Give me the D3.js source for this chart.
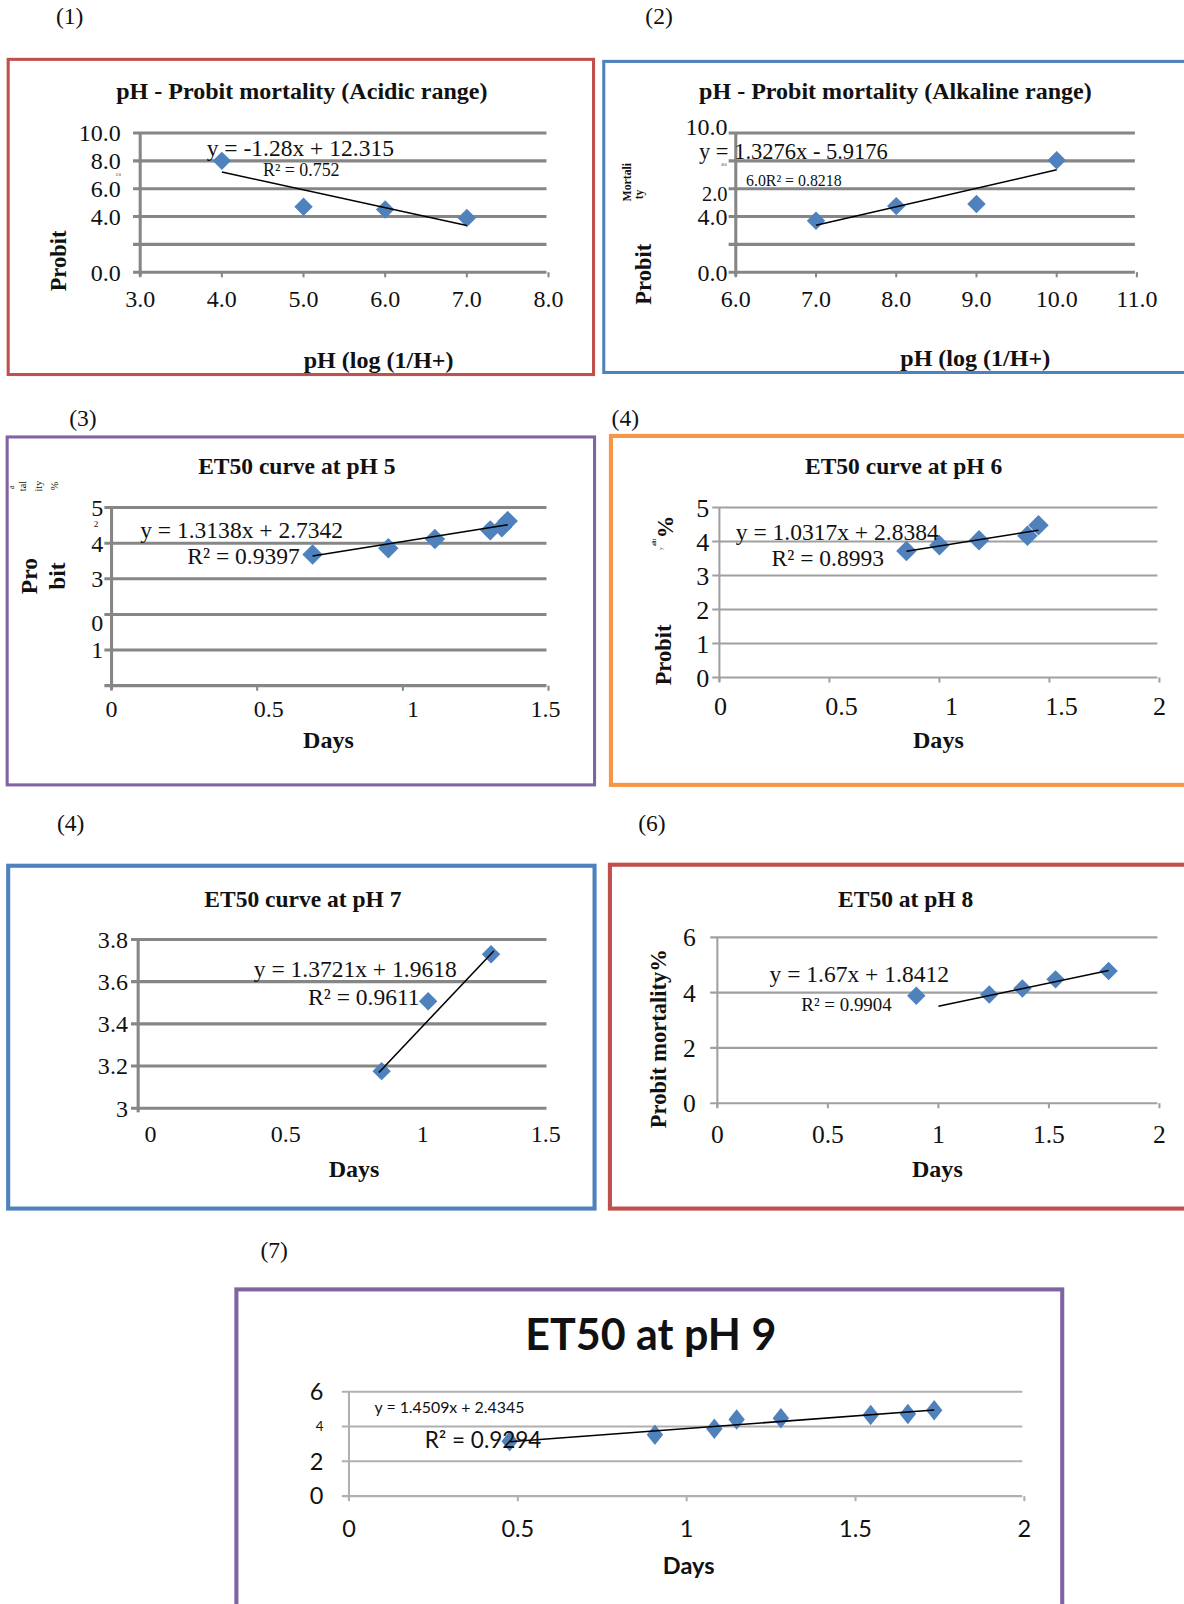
<!DOCTYPE html>
<html>
<head>
<meta charset="utf-8">
<script src="https://cdn.jsdelivr.net/npm/d3@7"></script>
<style>
	body { margin: 0; background: #fff; }
	svg { display: block; }
</style>
</head>
<body>
<div id="chart"></div>
<script>
// ---- data ----

// (1) acidic range
var acidPH = [4, 5, 6, 7];
var acidProbit = [8.0, 4.7, 4.5, 3.9];
var acidFit = [-1.28, 12.315];

// (2) alkaline range
var alkPH = [7, 8, 9, 10];
var alkProbit = [3.7, 4.75, 4.9, 8.05];
var alkFit = [1.3276, -5.9176];

// (3) ET50 at pH 5
var ph5Days = [0.69, 0.95, 1.11, 1.30, 1.34, 1.36];
var ph5Probit = [3.68, 3.86, 4.12, 4.36, 4.45, 4.62];
var ph5Fit = [1.3138, 2.7342];

// (4) ET50 at pH 6
var ph6Days = [0.85, 1.0, 1.18, 1.40, 1.45];
var ph6Probit = [3.72, 3.89, 4.04, 4.17, 4.48];
var ph6Fit = [1.0317, 2.8384];

// (4) ET50 at pH 7
var ph7Days = [0.89, 1.06, 1.29];
var ph7Probit = [3.176, 3.507, 3.73];
var ph7Fit = [1.3721, 1.9618];

// (6) ET50 at pH 8
var ph8Days = [0.90, 1.23, 1.38, 1.53, 1.77];
var ph8Probit = [3.89, 3.93, 4.15, 4.48, 4.78];
var ph8Fit = [1.67, 1.8412];

// (7) ET50 at pH 9
var ph9Days = [0.476, 0.906, 1.082, 1.148, 1.279, 1.545, 1.655, 1.733];
var ph9Probit = [3.16, 3.53, 3.87, 4.40, 4.47, 4.66, 4.72, 4.93];
var ph9Fit = [1.4509, 2.4345];

// tick labels (as printed, including the scan's odd ones)
var pHTicksA = [3, 4, 5, 6, 7, 8];
var pHTicksB = [6, 7, 8, 9, 10, 11];
var probitTicks10 = [10, 8, 6, 4, 2, 0];
var acidYLabels = ["10.0", "8.0", "6.0", "4.0", "", "0.0"];
var alkYLabels = ["10.0", "2.0", "4.0", "0.0"];
var alkYLabelAt = [10.45, 5.6, 4, 0];
var ph5YLabels = ["5", "4", "3", "0", "1"];
var ph5YLabelAt = [5, 4, 3, 1.78, 1];
var daysTicks15 = [0, 0.5, 1, 1.5];
var daysTicks2 = [0, 0.5, 1, 1.5, 2];
var ph7Ticks = [3.8, 3.6, 3.4, 3.2, 3];

var SERIF = "'Liberation Serif', 'Times New Roman', serif";
var SANS = "Lato, 'Open Sans', 'Liberation Sans', sans-serif";
var BLUE = "#4f81bd";

var k = 1184 / 1157;
var svg = d3.select("#chart").append("svg")
	.attr("width", 1184).attr("height", 1604);
var root = svg.append("g").attr("transform", "scale(" + k + ")");

function txt(g, x, y, s, size, opts){
	opts = opts || {};
	var t = g.append("text")
		.attr("x", x).attr("y", y)
		.attr("dy", "0.35em")
		.attr("font-family", opts.family || SERIF)
		.attr("font-size", size)
		.attr("font-weight", opts.bold ? "bold" : "normal")
		.attr("text-anchor", opts.anchor || "start")
		.attr("fill", "#111")
		.text(s);
	if(opts.rotate){
		t.attr("transform", "rotate(-90," + x + "," + y + ")");
	}
	return t;
}

function diamond(w, h){
	return "M0," + (-h) + "L" + w + ",0L0," + h + "L" + (-w) + ",0Z";
}

// Draw one panel: frame, grid, axes, points, trend line
function drawPanel(c){
	var g = root.append("g");

	g.append("rect")
		.attr("x", c.box[0]).attr("y", c.box[1])
		.attr("width", c.box[2]).attr("height", c.box[3])
		.attr("fill", "none")
		.attr("stroke", c.border).attr("stroke-width", c.borderW || 3);

	var x = d3.scaleLinear().domain(c.xDomain).range([c.plot[0], c.plot[1]]);
	var y = d3.scaleLinear().domain(c.yDomain).range([c.plot[3], c.plot[2]]);

	// horizontal grid lines (axis line included)
	g.selectAll(".grid").data(c.grid).enter().append("line")
		.attr("x1", c.plot[0] - 7).attr("x2", c.plot[1] - 2)
		.attr("y1", function(d){ return y(d); })
		.attr("y2", function(d){ return y(d); })
		.attr("stroke", c.gridColor).attr("stroke-width", c.gridW);

	// vertical axis
	g.append("line")
		.attr("x1", c.plot[0]).attr("x2", c.plot[0])
		.attr("y1", c.plot[2]).attr("y2", c.plot[3] + 4)
		.attr("stroke", c.gridColor).attr("stroke-width", c.gridW);

	// x tick marks
	if(c.xTickMarks){
		g.selectAll(".xt").data(c.xTicks).enter().append("line")
			.attr("x1", function(d){ return x(d); })
			.attr("x2", function(d){ return x(d); })
			.attr("y1", c.plot[3]).attr("y2", c.plot[3] + 5)
			.attr("stroke", c.gridColor).attr("stroke-width", Math.min(c.gridW, 2));
	}

	// tick labels
	var xLabelAt = c.xLabelAt || c.xTicks;
	xLabelAt.forEach(function(v, i){
		txt(g, x(v), c.xLabelY, c.xLabels ? c.xLabels[i] : c.xTickFmt(c.xTicks[i]), c.tickSize,
			{anchor: "middle", family: c.family});
	});
	var yLabelAt = c.yLabelAt || c.grid;
	yLabelAt.forEach(function(v, i){
		var s = c.yLabels ? c.yLabels[i] : String(c.grid[i]);
		txt(g, c.yLabelX, y(v), s, c.yLabelSizes ? c.yLabelSizes[i] : c.tickSize,
			{anchor: "end", family: c.family});
	});

	// markers
	g.selectAll(".pt").data(c.xs).enter().append("path")
		.attr("d", diamond(c.marker[0], c.marker[1]))
		.attr("transform", function(d, i){
			return "translate(" + x(d) + "," + y(c.ys[i]) + ")";
		})
		.attr("fill", BLUE);

	// trend line from the fitted coefficients, drawn over the markers
	var fitX = c.fitRange;
	g.append("line")
		.attr("x1", x(fitX[0])).attr("y1", y(c.fit[0] * fitX[0] + c.fit[1]))
		.attr("x2", x(fitX[1])).attr("y2", y(c.fit[0] * fitX[1] + c.fit[1]))
		.attr("stroke", "#000").attr("stroke-width", 1.5);

	return g;
}

var fmt1 = d3.format(".1f");
var fmtG = function(d){ return String(d); };

// ---- (1) ----
var g1 = drawPanel({
	box: [8, 58, 572, 308], border: "#c0504d",
	plot: [137, 536, 130, 266], xDomain: [3, 8], yDomain: [0, 10],
	grid: probitTicks10, yLabels: acidYLabels, yLabelX: 118,
	xTicks: pHTicksA, xTickFmt: fmt1, xLabelY: 292, xTickMarks: true,
	gridColor: "#868686", gridW: 3, tickSize: 23.5,
	xs: acidPH, ys: acidProbit, fit: acidFit, fitRange: [4, 7], marker: [9, 9]
});
txt(g1, 295, 89, "pH - Probit mortality (Acidic range)", 23.5, {anchor: "middle", bold: true});
txt(g1, 57, 255, "Probit", 22, {anchor: "middle", bold: true, rotate: true});
txt(g1, 370, 351, "pH (log (1/H+)", 23.5, {anchor: "middle", bold: true});
txt(g1, 202, 144, "y = -1.28x + 12.315", 23);
txt(g1, 257, 166, "R² = 0.752", 17.5);
txt(g1, 113, 171, "2.0", 4);

// ---- (2) ----
var g2 = drawPanel({
	box: [590, 60, 590, 304], border: BLUE,
	plot: [719, 1111, 130, 266], xDomain: [6, 11], yDomain: [0, 10],
	grid: probitTicks10, yLabels: alkYLabels, yLabelAt: alkYLabelAt, yLabelX: 711,
	yLabelSizes: [23.5, 20, 23.5, 23.5],
	xTicks: pHTicksB, xTickFmt: fmt1, xLabelY: 292, xTickMarks: true,
	gridColor: "#868686", gridW: 3, tickSize: 23.5,
	xs: alkPH, ys: alkProbit, fit: alkFit, fitRange: [7, 10], marker: [9, 9]
});
txt(g2, 875, 89, "pH - Probit mortality (Alkaline range)", 23.5, {anchor: "middle", bold: true});
txt(g2, 628, 268, "Probit", 22, {anchor: "middle", bold: true, rotate: true});
txt(g2, 953, 349, "pH (log (1/H+)", 23.5, {anchor: "middle", bold: true});
txt(g2, 683, 148, "y = 1.3276x - 5.9176", 22);
txt(g2, 729, 176, "6.0R² = 0.8218", 15.5);
txt(g2, 705, 161, "8.0", 4);
txt(g2, 613, 178, "Mortali", 11.5, {anchor: "middle", bold: true, rotate: true});
txt(g2, 624, 190, "ty", 11.5, {anchor: "middle", bold: true, rotate: true});

// ---- (3) ----
var g3 = drawPanel({
	box: [7, 427, 574, 340], border: "#8064a2",
	plot: [109, 536, 496, 670], xDomain: [0, 1.5], yDomain: [0, 5],
	grid: [5, 4, 3, 2, 1, 0], yLabels: ph5YLabels, yLabelAt: ph5YLabelAt, yLabelX: 101,
	xTicks: daysTicks15, xTickFmt: fmtG, xLabelAt: [0, 0.54, 1.035, 1.49], xLabelY: 692, xTickMarks: true,
	gridColor: "#868686", gridW: 3, tickSize: 23.5,
	xs: ph5Days, ys: ph5Probit, fit: ph5Fit, fitRange: [0.69, 1.36], marker: [10, 10]
});
txt(g3, 290, 455, "ET50 curve at pH 5", 23, {anchor: "middle", bold: true});
txt(g3, 28, 563, "Pro", 23, {anchor: "middle", bold: true, rotate: true});
txt(g3, 55, 563, "bit", 23, {anchor: "middle", bold: true, rotate: true});
txt(g3, 321, 723, "Days", 23.5, {anchor: "middle", bold: true});
txt(g3, 137, 518, "y = 1.3138x + 2.7342", 23);
txt(g3, 183, 543, "R² = 0.9397", 23);
txt(g3, 96, 512, "2", 9, {anchor: "end"});
txt(g3, 11, 476, "a", 8, {anchor: "middle", rotate: true});
txt(g3, 22, 475, "tal", 10, {anchor: "middle", rotate: true});
txt(g3, 38, 475, "ity", 10, {anchor: "middle", rotate: true});
txt(g3, 53, 475, "%", 10, {anchor: "middle", rotate: true});

// ---- (4) pH 6 ----
var g4 = drawPanel({
	box: [597, 426, 590, 341], border: "#f79646", borderW: 4,
	plot: [703, 1133, 496, 662], xDomain: [0, 2], yDomain: [0, 5],
	grid: [5, 4, 3, 2, 1, 0], yLabelX: 693,
	xTicks: daysTicks2, xTickFmt: fmtG, xLabelAt: [0.005, 0.555, 1.055, 1.555, 2.0], xLabelY: 690, xTickMarks: true,
	gridColor: "#a0a0a0", gridW: 2, tickSize: 25.5,
	xs: ph6Days, ys: ph6Probit, fit: ph6Fit, fitRange: [0.85, 1.45], marker: [10, 10]
});
txt(g4, 883, 455, "ET50 curve at pH 6", 23, {anchor: "middle", bold: true});
txt(g4, 648, 640, "Probit", 22, {anchor: "middle", bold: true, rotate: true});
txt(g4, 917, 723, "Days", 23.5, {anchor: "middle", bold: true});
txt(g4, 650, 515, "%", 22, {anchor: "middle", bold: true, rotate: true});
txt(g4, 639, 530, "alit", 5, {anchor: "middle", bold: true, rotate: true});
txt(g4, 646, 536, "y", 5, {anchor: "middle", rotate: true});
txt(g4, 719, 520, "y = 1.0317x + 2.8384", 23);
txt(g4, 754, 545, "R² = 0.8993", 23);

// ---- (4) pH 7 ----
var g5 = drawPanel({
	box: [8, 846, 573, 335], border: BLUE, borderW: 4,
	plot: [135, 536, 918, 1083], xDomain: [0, 1.5], yDomain: [3, 3.8],
	grid: ph7Ticks, yLabelX: 125,
	xTicks: daysTicks15, xTickFmt: fmtG, xLabelAt: [0.045, 0.54, 1.04, 1.49], xLabelY: 1108, xTickMarks: false,
	gridColor: "#868686", gridW: 3, tickSize: 23.5,
	xs: ph7Days, ys: ph7Probit, fit: ph7Fit, fitRange: [0.88, 1.30], marker: [9, 9]
});
txt(g5, 296, 878, "ET50 curve at pH 7", 23, {anchor: "middle", bold: true});
txt(g5, 346, 1142, "Days", 23.5, {anchor: "middle", bold: true});
txt(g5, 248, 947, "y = 1.3721x + 1.9618", 23);
txt(g5, 301, 974, "R² = 0.9611", 23);

// ---- (6) pH 8 ----
var g6 = drawPanel({
	box: [596, 845, 590, 336], border: "#c0504d", borderW: 4,
	plot: [701, 1133, 916, 1078], xDomain: [0, 2], yDomain: [0, 6],
	grid: [6, 4, 2, 0], yLabelX: 680,
	xTicks: daysTicks2, xTickFmt: fmtG, xLabelY: 1108, xTickMarks: true,
	gridColor: "#a0a0a0", gridW: 2, tickSize: 25,
	xs: ph8Days, ys: ph8Probit, fit: ph8Fit, fitRange: [1.0, 1.77], marker: [9, 9]
});
txt(g6, 885, 878, "ET50 at pH 8", 23, {anchor: "middle", bold: true});
txt(g6, 643, 1015, "Probit mortality%", 22, {anchor: "middle", bold: true, rotate: true});
txt(g6, 916, 1142, "Days", 23.5, {anchor: "middle", bold: true});
txt(g6, 752, 952, "y = 1.67x + 1.8412", 23);
txt(g6, 783, 981, "R² = 0.9904", 18.5);

// ---- (7) pH 9 ----
var g7 = drawPanel({
	box: [231, 1260, 807, 330], border: "#8064a2", borderW: 4,
	plot: [341, 1001, 1360, 1462], xDomain: [0, 2], yDomain: [0, 6],
	grid: [6, 4, 2, 0], yLabelX: 316, yLabelSizes: [23, 13, 23, 23],
	xTicks: daysTicks2, xTickFmt: fmtG, xLabelY: 1494, xTickMarks: true,
	gridColor: "#b0b0b0", gridW: 2, tickSize: 23, family: SANS,
	xs: ph9Days, ys: ph9Probit, fit: ph9Fit, fitRange: [0.476, 1.733], marker: [8, 10]
});
txt(g7, 636, 1305, "ET50 at pH 9", 42, {anchor: "middle", bold: true, family: SANS});
txt(g7, 673, 1530, "Days", 23, {anchor: "middle", bold: true, family: SANS});
txt(g7, 366, 1375, "y = 1.4509x + 2.4345", 15.5, {family: SANS});
txt(g7, 415, 1407, "R² = 0.9294", 22, {family: SANS});

// panel numbers
var panelTags = ["(1)", "(2)", "(3)", "(4)", "(4)", "(6)", "(7)"];
var tagPos = [[68, 15], [644, 15], [81, 408], [611, 408], [69, 804], [637, 804], [268, 1221]];
panelTags.forEach(function(s, i){
	txt(root, tagPos[i][0], tagPos[i][1], s, 23, {anchor: "middle"});
});
</script>
</body>
</html>
